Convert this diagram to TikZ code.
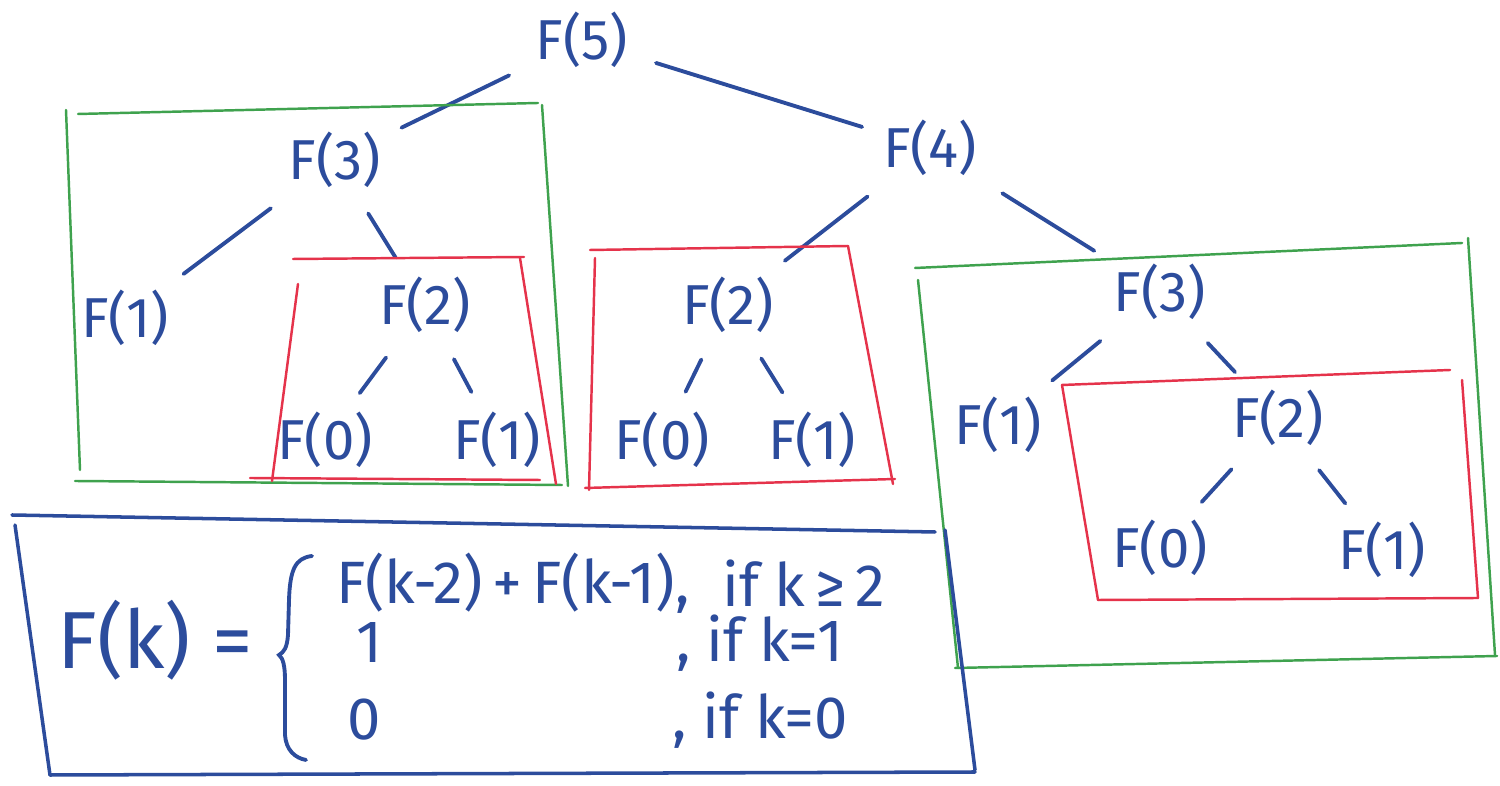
\documentclass[tikz,border=0pt]{standalone}
\usepackage{fontspec}
\setmainfont{Fira Sans}
\usepackage{xcolor}
\usepackage{tikz}
\usetikzlibrary{arrows.meta}
\definecolor{inkblue}{HTML}{2C4C9C}
\definecolor{inkgreen}{HTML}{3FA24E}
\definecolor{inkred}{HTML}{E5334B}
\tikzset{
  callnode/.style={
    text=inkblue, font=\fontsize{16}{19}\selectfont,
    inner sep=2pt
  },
  calledge/.style={draw=inkblue, line width=1.1pt, line cap=round,
    shorten <=6pt, shorten >=4pt},
  greenbox/.style={draw=inkgreen, line width=0.7pt, line cap=round},
  redbox/.style={draw=inkred, line width=0.7pt, line cap=round},
  bluebox/.style={draw=inkblue, line width=1pt, line cap=round},
  bracepath/.style={draw=inkblue, line width=1.1pt, line cap=round},
  formula/.style={text=inkblue, font=\fontsize{17}{20}\selectfont, inner sep=1pt},
}

\begin{document}
\begin{tikzpicture}[x=0.01cm, y=-0.01cm]
  \useasboundingbox (0,0) rectangle (1500,786);

  % call tree
  \node[callnode] (f5)  at (582,40)   {F(5)};
  \node[callnode] (f4)  at (930,148)  {F(4)};
  \node[callnode] (f3a) at (335,160)  {F(3)};
  \node[callnode] (f1a) at (125,318)  {F(1)};
  \node[callnode] (f2a) at (425,305)  {F(2)};
  \node[callnode] (f0a) at (325,440)  {F(0)};
  \node[callnode] (f1b) at (497,440)  {F(1)};
  \node[callnode] (f2b) at (728,305)  {F(2)};
  \node[callnode] (f0b) at (662,440)  {F(0)};
  \node[callnode] (f1c) at (812,440)  {F(1)};
  \node[callnode] (f3b) at (1160,292) {F(3)};
  \node[callnode] (f1d) at (998,425)  {F(1)};
  \node[callnode] (f2c) at (1278,418) {F(2)};
  \node[callnode] (f0c) at (1160,548) {F(0)};
  \node[callnode] (f1e) at (1382,550) {F(1)};

  \draw[calledge] (f5) -- (f3a);
  \draw[calledge] (f5) -- (f4);
  \draw[calledge] (f3a) -- (f1a);
  \draw[calledge] (f3a) -- (f2a);
  \draw[calledge] (f2a) -- (f0a);
  \draw[calledge] (f2a) -- (f1b);
  \draw[calledge] (f4) -- (f2b);
  \draw[calledge] (f4) -- (f3b);
  \draw[calledge] (f2b) -- (f0b);
  \draw[calledge] (f2b) -- (f1c);
  \draw[calledge] (f3b) -- (f1d);
  \draw[calledge] (f3b) -- (f2c);
  \draw[calledge] (f2c) -- (f0c);
  \draw[calledge] (f2c) -- (f1e);

  % repeated subtrees
  \draw[greenbox] (78,114) -- (538,103);
  \draw[greenbox] (66,110) -- (80,470);
  \draw[greenbox] (542,105) -- (568,486);
  \draw[greenbox] (75,481) -- (562,485);
  \draw[redbox] (293,259) -- (524,257);
  \draw[redbox] (298,284) -- (272,481);
  \draw[redbox] (520,258) -- (556,484);
  \draw[redbox] (250,478) -- (540,480);
  \draw[redbox] (590,250) -- (848,246);
  \draw[redbox] (595,258) -- (589,490);
  \draw[redbox] (848,246) -- (893,484);
  \draw[redbox] (585,488) -- (895,479);
  \draw[greenbox] (915,268) -- (1462,243);
  \draw[greenbox] (918,280) -- (958,668);
  \draw[greenbox] (1468,238) -- (1495,655);
  \draw[greenbox] (955,668) -- (1497,656);
  \draw[redbox] (1062,385) -- (1450,370);
  \draw[redbox] (1062,385) -- (1098,600);
  \draw[redbox] (1462,380) -- (1478,598);
  \draw[redbox] (1098,600) -- (1478,598);

  % recurrence
  \draw[bluebox] (12,515) -- (935,532);
  \draw[bluebox] (15,525) -- (50,775);
  \draw[bluebox] (945,530) -- (975,770);
  \draw[bluebox] (50,775) -- (975,772);
  \node[formula, font=\fontsize{23}{26}\selectfont] (fk) at (155,640) {F(k) =};
  \draw[bracepath] (312,556) .. controls (295,558) and (290,570) .. (289,600)
    -- (288,635) .. controls (287,648) and (284,652) .. (279,655)
    .. controls (283,658) and (285,666) .. (285,680)
    -- (285,735) .. controls (286,750) and (295,758) .. (306,760);
  \node[formula, anchor=west] (case1) at (332,583) {F(k-2)\,+\,F(k-1),};
  \node[formula, anchor=west] (cond1) at (718,583) {if k\,≥\,2};
  \node[formula, anchor=west] (case2) at (352,643) {1};
  \node[formula, anchor=west] (cond2) at (672,643) {, if k=1};
  \node[formula, anchor=west] (case3) at (343,720) {0};
  \node[formula, anchor=west] (cond3) at (668,720) {, if k=0};
\end{tikzpicture}
\end{document}
